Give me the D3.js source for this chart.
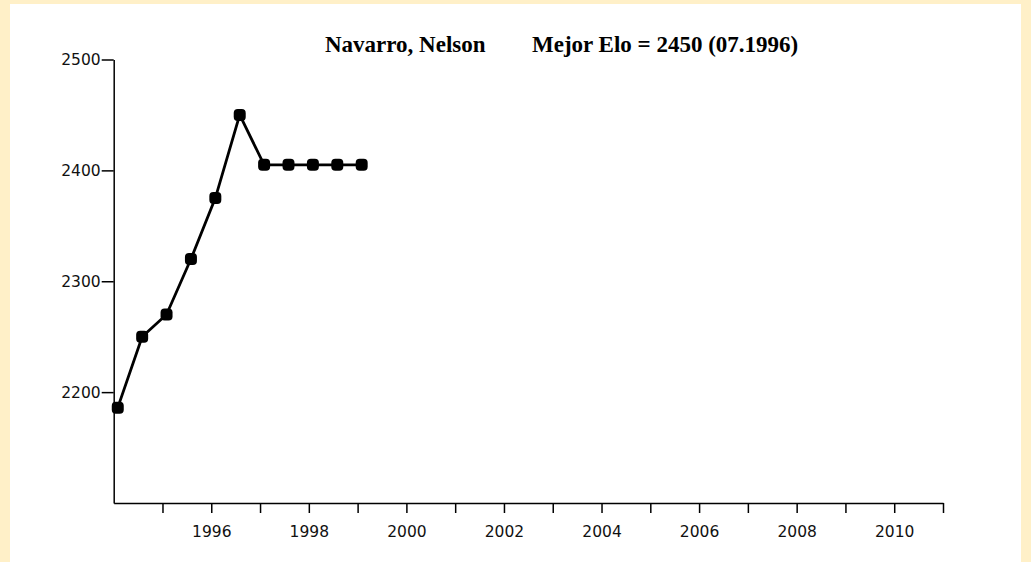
<!DOCTYPE html>
<html>
<head>
<meta charset="utf-8">
<script src="https://cdn.jsdelivr.net/npm/d3@7"></script>
<style>
  body { margin: 0; background: #fff0c8; }
  svg { display: block; }
</style>
</head>
<body>
<svg></svg>
<script>
const jugador = 'Navarro, Nelson';
const mejor = 'Mejor Elo = 2450 (07.1996)';

const fechas = ['01.1994', '07.1994', '01.1995', '07.1995', '01.1996', '07.1996',
                '01.1997', '07.1997', '01.1998', '07.1998', '01.1999'];
const elo = [2186, 2250, 2270, 2320, 2375, 2450, 2405, 2405, 2405, 2405, 2405];

const eloTicks = [2200, 2300, 2400, 2500];
const anioTicks = d3.range(1995, 2012);

const width = 1031;
const height = 562;

const svg = d3.select('svg')
    .attr('width', width)
    .attr('height', height);

// white panel on the beige page
svg.append('rect')
    .attr('x', 10)
    .attr('y', 4)
    .attr('width', 1011)
    .attr('height', height - 4)
    .attr('fill', 'white');

const x = d3.scaleLinear()
    .domain([1994, 2011])
    .range([113.7, 943]);

const y = d3.scaleLinear()
    .domain([2100, 2500])
    .range([503, 59.5]);

// "07.1996" -> 1996 + 7/12
const aAnio = f => {
    const [m, a] = f.split('.');
    return +a + (+m) / 12;
};

const puntos = fechas.map((f, i) => ({ t: aAnio(f), v: elo[i] }));

const xAxis = svg.append('g')
    .attr('transform', `translate(0, ${y(2100)})`)
    .call(d3.axisBottom(x)
        .tickValues(anioTicks)
        .tickSize(10)
        .tickSizeOuter(0)
        .tickPadding(13)
        .tickFormat(d => d % 2 === 0 && d < 2011 ? d : ''));

const yAxis = svg.append('g')
    .attr('transform', `translate(${x(1994)}, 0)`)
    .call(d3.axisLeft(y)
        .tickValues(eloTicks)
        .tickSize(12)
        .tickSizeOuter(0)
        .tickPadding(1)
        .tickFormat(d3.format('d')));

svg.selectAll('.domain, .tick line')
    .attr('stroke', 'black')
    .attr('stroke-width', 1.5);

svg.selectAll('.tick text')
    .attr('font-family', '"DejaVu Sans", sans-serif')
    .attr('font-size', 15.5)
    .attr('fill', '#111');

const line = d3.line()
    .x(d => x(d.t))
    .y(d => y(d.v));

svg.append('path')
    .datum(puntos)
    .attr('d', line)
    .attr('fill', 'none')
    .attr('stroke', 'black')
    .attr('stroke-width', 2.8);

svg.selectAll('.punto')
    .data(puntos)
    .enter().append('rect')
    .attr('class', 'punto')
    .attr('x', d => x(d.t) - 6)
    .attr('y', d => y(d.v) - 6)
    .attr('width', 12)
    .attr('height', 12)
    .attr('rx', 4)
    .attr('fill', 'black');

const titulo = svg.append('g')
    .attr('font-family', '"Liberation Serif", "Times New Roman", serif')
    .attr('font-weight', 'bold')
    .attr('font-size', 23);

titulo.append('text')
    .attr('x', 325)
    .attr('y', 52)
    .text(jugador);

titulo.append('text')
    .attr('x', 532)
    .attr('y', 52)
    .text(mejor);
</script>
</body>
</html>
